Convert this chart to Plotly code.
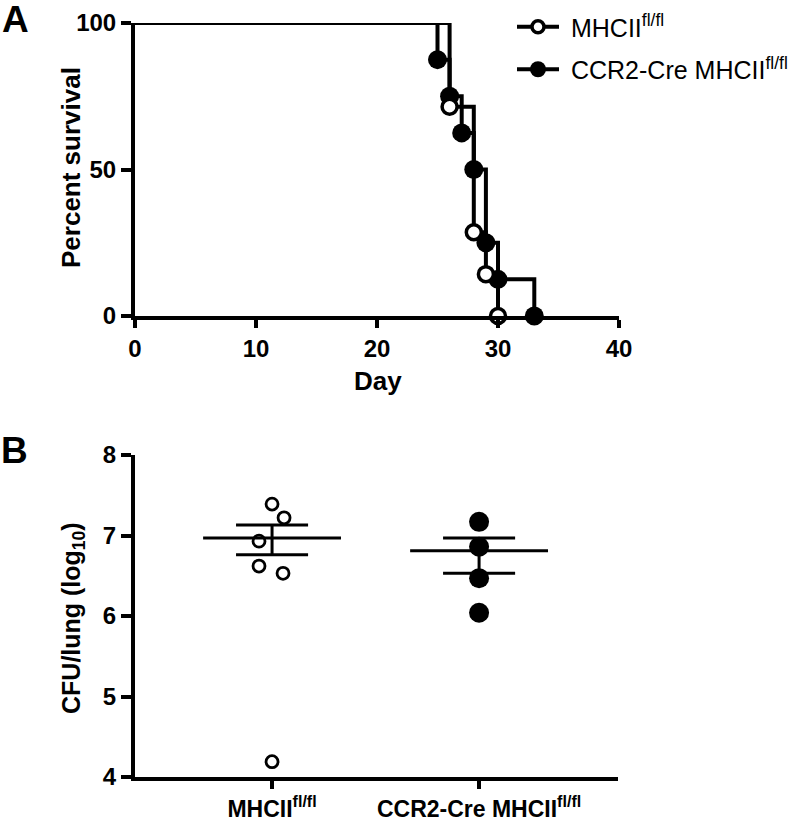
import plotly.graph_objects as go

# ---------------- data ----------------
# Panel A: Kaplan-Meier survival (percent) by day
days_mhc = [0, 26, 28, 29, 30]
surv_mhc = [100, 71.43, 28.57, 14.29, 0]
days_ccr2 = [0, 25, 26, 27, 28, 29, 30, 33]
surv_ccr2 = [100, 87.5, 75, 62.5, 50, 25, 12.5, 0]

# Panel B: CFU/lung (log10)
groups = ["MHCII<sup>fl/fl</sup>", "CCR2-Cre MHCII<sup>fl/fl</sup>"]
cfu_mhc = [7.39, 7.22, 6.93, 6.62, 6.53, 4.19]
cfu_ccr2 = [7.17, 6.86, 6.47, 6.04]
# summary lines as drawn (center, upper, lower)
center_vals = [6.97, 6.81]
upper_vals = [7.13, 6.97]
lower_vals = [6.76, 6.53]

legend_names = ["MHCII<sup>fl/fl</sup>", "CCR2-Cre MHCII<sup>fl/fl</sup>"]

# ---------------- style ----------------
FONT = "Liberation Sans, Arial, Helvetica, sans-serif"
jit_mhc = [0.0, 0.058, -0.063, -0.063, 0.053, 0.0]
jit_ccr2 = [0.0, 0.0, 0.0, 0.0]
MEAN_HW = 0.333
CAP_HW = 0.174
W, H = 800, 819
NBSP = "\u00a0"

fig = go.Figure()

# Panel A curves
fig.add_trace(go.Scatter(
    x=days_ccr2, y=surv_ccr2, mode="lines+markers", line_shape="hv",
    line=dict(color="black", width=4),
    marker=dict(symbol="circle", color="black", opacity=1,
                size=[0] + [19] * (len(days_ccr2) - 1), line=dict(width=0)),
    name=NBSP + legend_names[1], xaxis="x", yaxis="y", cliponaxis=False,
    legendrank=2, legendgroup="g2"))
fig.add_trace(go.Scatter(
    x=days_mhc, y=surv_mhc, mode="lines+markers", line_shape="hv",
    line=dict(color="black", width=4),
    marker=dict(symbol="circle", color="white", opacity=1,
                size=[0] + [15] * (len(days_mhc) - 1),
                line=dict(color="black", width=3.5)),
    name=NBSP + legend_names[0], xaxis="x", yaxis="y", cliponaxis=False,
    legendrank=1, legendgroup="g1"))

# Panel B points
fig.add_trace(go.Scatter(
    x=[0 + j for j in jit_mhc], y=cfu_mhc, mode="markers",
    marker=dict(symbol="circle", color="white", size=12,
                line=dict(color="black", width=2.8)),
    xaxis="x2", yaxis="y2", showlegend=False, cliponaxis=False))
fig.add_trace(go.Scatter(
    x=[1 + j for j in jit_ccr2], y=cfu_ccr2, mode="markers",
    marker=dict(symbol="circle", color="black", size=20, line=dict(width=0)),
    xaxis="x2", yaxis="y2", showlegend=False, cliponaxis=False))

# Panel B summary lines
for i in range(len(groups)):
    fig.add_trace(go.Scatter(
        x=[i - MEAN_HW, i + MEAN_HW], y=[center_vals[i]] * 2, mode="lines",
        line=dict(color="black", width=3), xaxis="x2", yaxis="y2",
        showlegend=False))
    for v in (upper_vals[i], lower_vals[i]):
        fig.add_trace(go.Scatter(
            x=[i - CAP_HW, i + CAP_HW], y=[v, v], mode="lines",
            line=dict(color="black", width=3), xaxis="x2", yaxis="y2",
            showlegend=False))
    fig.add_trace(go.Scatter(
        x=[i, i], y=[lower_vals[i], upper_vals[i]], mode="lines",
        line=dict(color="black", width=3), xaxis="x2", yaxis="y2",
        showlegend=False))

axis_common = dict(showline=True, linecolor="black", linewidth=4,
                   ticks="outside", tickwidth=4, tickcolor="black",
                   showgrid=False, zeroline=False, automargin=False,
                   tickfont=dict(family=FONT, size=24, color="black", weight="bold"))


def px(xp):
    return xp / W


def py(yp):
    return 1 - yp / H


title_font = dict(family=FONT, size=26, color="black")
axis_b_x = dict(axis_common)
axis_b_x["tickfont"] = dict(family=FONT, size=23, color="black", weight="bold")

fig.update_layout(
    width=W, height=H,
    margin=dict(l=0, r=0, t=0, b=0, autoexpand=False),
    paper_bgcolor="white", plot_bgcolor="white",
    font=dict(family=FONT, color="black"),
    xaxis=dict(domain=[px(135), px(619)], range=[0, 40],
               tickvals=[0, 10, 20, 30, 40], ticklen=8, anchor="y",
               **axis_common),
    yaxis=dict(domain=[py(316), py(23)], range=[0, 100],
               tickvals=[0, 50, 100], ticklen=10, anchor="x",
               **axis_common),
    xaxis2=dict(domain=[px(135), px(618)], range=[-0.662, 1.671],
                tickvals=[0, 1], ticktext=["<b>" + g + "</b>" for g in groups],
                ticklen=8, anchor="y2", **axis_b_x),
    yaxis2=dict(domain=[py(777), py(455)], range=[4, 8],
                tickvals=[4, 5, 6, 7, 8], ticklen=10, anchor="x2",
                **axis_common),
    legend=dict(x=px(512), y=py(4), xanchor="left", yanchor="top",
                font=dict(family=FONT, size=25, color="black"),
                bgcolor="rgba(0,0,0,0)", traceorder="grouped",
                tracegroupgap=7, itemwidth=42),
    annotations=[
        dict(text="<b>A</b>", x=px(15), y=py(19), xref="paper", yref="paper",
             xanchor="center", yanchor="middle", showarrow=False,
             font=dict(family=FONT, size=37, color="black")),
        dict(text="<b>B</b>", x=px(14), y=py(450), xref="paper", yref="paper",
             xanchor="center", yanchor="middle", showarrow=False,
             font=dict(family=FONT, size=37, color="black")),
        dict(text="<b>Percent survival</b>", x=px(71), y=py(168), xref="paper",
             yref="paper", xanchor="center", yanchor="middle", textangle=-90,
             showarrow=False, font=title_font),
        dict(text="<b>Day</b>", x=px(378), y=py(381), xref="paper",
             yref="paper", xanchor="center", yanchor="middle",
             showarrow=False, font=title_font),
        dict(text="<b>CFU/lung (log<sub>10</sub>)</b>", x=px(73), y=py(618),
             xref="paper", yref="paper", xanchor="center", yanchor="middle",
             textangle=-90, showarrow=False,
             font=dict(family=FONT, size=25, color="black")),
    ],
)

fig.write_html("out.html", config={"displayModeBar": False},
               post_script="document.body.style.margin='0';"
                           "document.body.style.padding='0';")
